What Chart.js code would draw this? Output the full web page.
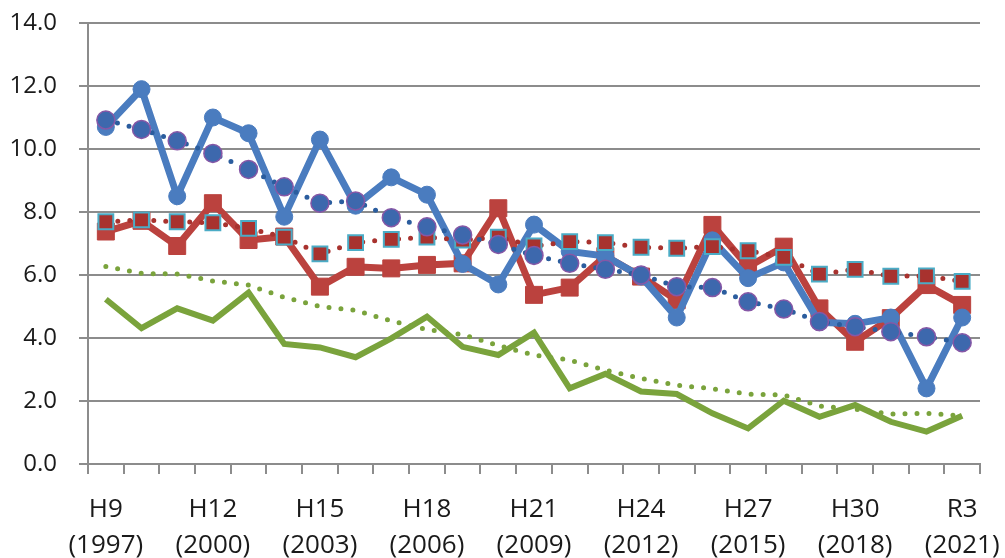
<!DOCTYPE html>
<html lang="ja">
<head>
    <meta charset="UTF-8">
    <title>Chart</title>
    <script src="https://cdn.jsdelivr.net/npm/chart.js"></script>
    <style>
        body {
            margin: 0;
            background-color: #fff;
        }
        #wrap {
            width: 1005px;
            height: 558px;
        }
    </style>
</head>
<body>
    <div id="wrap">
        <canvas id="chart" width="1005" height="558"></canvas>
    </div>

    <script>
        const categories = ['1997', '1998', '1999', '2000', '2001', '2002', '2003', '2004', '2005',
            '2006', '2007', '2008', '2009', '2010', '2011', '2012', '2013', '2014', '2015', '2016',
            '2017', '2018', '2019', '2020', '2021'];

        const tickLabels = [
            ['H9', '(1997)'], '', '', ['H12', '(2000)'], '', '', ['H15', '(2003)'], '', '',
            ['H18', '(2006)'], '', '', ['H21', '(2009)'], '', '', ['H24', '(2012)'], '', '',
            ['H27', '(2015)'], '', '', ['H30', '(2018)'], '', '', ['R3', '(2021)']
        ];

        const yTicks = [0, 2, 4, 6, 8, 10, 12, 14];

        // solid series
        const blueValues = [10.7, 11.9, 8.5, 11.0, 10.5, 7.85, 10.3, 8.2, 9.1, 8.55, 6.35, 5.7, 7.6,
            6.75, 6.6, 5.95, 4.65, 7.1, 5.9, 6.4, 4.5, 4.45, 4.65, 2.4, 4.65];
        const redValues = [7.38, 7.72, 6.92, 8.28, 7.11, 7.22, 5.63, 6.26, 6.21, 6.32, 6.37, 8.12, 5.37,
            5.6, 6.6, 5.95, 5.2, 7.59, 6.26, 6.9, 4.94, 3.88, 4.63, 5.68, 5.05];
        const greenValues = [5.23, 4.31, 4.94, 4.55, 5.44, 3.81, 3.7, 3.39, 3.99, 4.68, 3.72, 3.46, 4.17,
            2.4, 2.86, 2.3, 2.22, 1.61, 1.13, 2.01, 1.5, 1.87, 1.34, 1.03, 1.53];

        // dotted series
        const blueTrend = [10.92, 10.62, 10.26, 9.86, 9.35, 8.8, 8.28, 8.35, 7.82, 7.53, 7.27, 6.97, 6.62,
            6.37, 6.18, 6.0, 5.63, 5.6, 5.15, 4.92, 4.52, 4.36, 4.2, 4.04, 3.85];
        const redTrend = [7.69, 7.75, 7.69, 7.66, 7.48, 7.2, 6.67, 7.03, 7.13, 7.2, 7.11, 7.2, 6.92,
            7.06, 7.03, 6.88, 6.85, 6.9, 6.77, 6.56, 6.03, 6.18, 5.96, 5.97, 5.8];
        const greenTrend = [6.27, 6.05, 6.03, 5.81, 5.68, 5.29, 5.0, 4.88, 4.54, 4.27, 4.11, 3.76, 3.46,
            3.3, 2.98, 2.72, 2.5, 2.39, 2.22, 2.19, 1.84, 1.74, 1.59, 1.61, 1.53];

        const gridColor = '#8c8c8c';
        const fontFamily = '"Open Sans", "Noto Sans", sans-serif';
        const dots = { borderWidth: 5, borderDash: [0, 12], borderCapStyle: 'round' };

        const ctx = document.getElementById('chart').getContext('2d');
        new Chart(ctx, {
            type: 'line',
            data: {
                labels: categories,
                datasets: [
                    // first dataset is drawn on top
                    Object.assign({
                        data: blueTrend,
                        borderColor: '#2b5d9e',
                        pointStyle: 'circle',
                        pointRadius: 9,
                        pointBackgroundColor: '#3d68ad',
                        pointBorderColor: '#8657a6',
                        pointBorderWidth: 1.5
                    }, dots),
                    Object.assign({
                        data: redTrend,
                        borderColor: '#a8322e',
                        pointStyle: 'rect',
                        pointRadius: 10.5,
                        pointBackgroundColor: '#a8322e',
                        pointBorderColor: '#4bacc6',
                        pointBorderWidth: 2
                    }, dots),
                    {
                        data: blueValues,
                        borderColor: '#4a7cbf',
                        borderWidth: 7,
                        pointStyle: 'circle',
                        pointRadius: 8.5,
                        pointBackgroundColor: '#4a7cbf',
                        pointBorderColor: '#4a7cbf',
                        pointBorderWidth: 1
                    },
                    {
                        data: redValues,
                        borderColor: '#bb423e',
                        borderWidth: 7,
                        pointStyle: 'rect',
                        pointRadius: 12,
                        pointBackgroundColor: '#bb423e',
                        pointBorderColor: '#bb423e',
                        pointBorderWidth: 1
                    },
                    Object.assign({
                        data: greenTrend,
                        borderColor: '#7aa33c',
                        pointRadius: 0
                    }, dots),
                    {
                        data: greenValues,
                        borderColor: '#7aa33c',
                        borderWidth: 6,
                        pointRadius: 0
                    }
                ]
            },
            options: {
                responsive: false,
                animation: false,
                layout: {
                    autoPadding: false,
                    padding: { left: 0, right: 25, top: 23, bottom: 0 }
                },
                plugins: {
                    legend: { display: false },
                    tooltip: { enabled: false }
                },
                elements: {
                    line: { tension: 0 }
                },
                scales: {
                    x: {
                        offset: true,
                        afterFit: axis => {
                            axis.height = 94;
                            axis.paddingLeft = 0;
                            axis.paddingRight = 0;
                        },
                        grid: {
                            offset: true,
                            drawOnChartArea: false,
                            drawTicks: true,
                            tickLength: 10,
                            color: gridColor,
                            lineWidth: 2
                        },
                        border: { color: gridColor, width: 2 },
                        ticks: {
                            autoSkip: false,
                            maxRotation: 0,
                            padding: 18,
                            color: '#1a1a1a',
                            font: { family: fontFamily, size: 26, lineHeight: 1.385 },
                            callback: (v, i) => tickLabels[i]
                        }
                    },
                    y: {
                        min: yTicks[0],
                        max: yTicks[yTicks.length - 1],
                        afterFit: axis => {
                            axis.width = 88;
                            axis.paddingTop = 0;
                            axis.paddingBottom = 0;
                        },
                        afterBuildTicks: axis => {
                            axis.ticks = yTicks.map(v => ({ value: v }));
                        },
                        grid: {
                            color: gridColor,
                            lineWidth: 2,
                            tickLength: 9
                        },
                        border: { color: gridColor, width: 2 },
                        ticks: {
                            padding: 22,
                            color: '#1a1a1a',
                            font: { family: fontFamily, size: 24 },
                            callback: v => v.toFixed(1)
                        }
                    }
                }
            }
        });
    </script>
</body>
</html>
